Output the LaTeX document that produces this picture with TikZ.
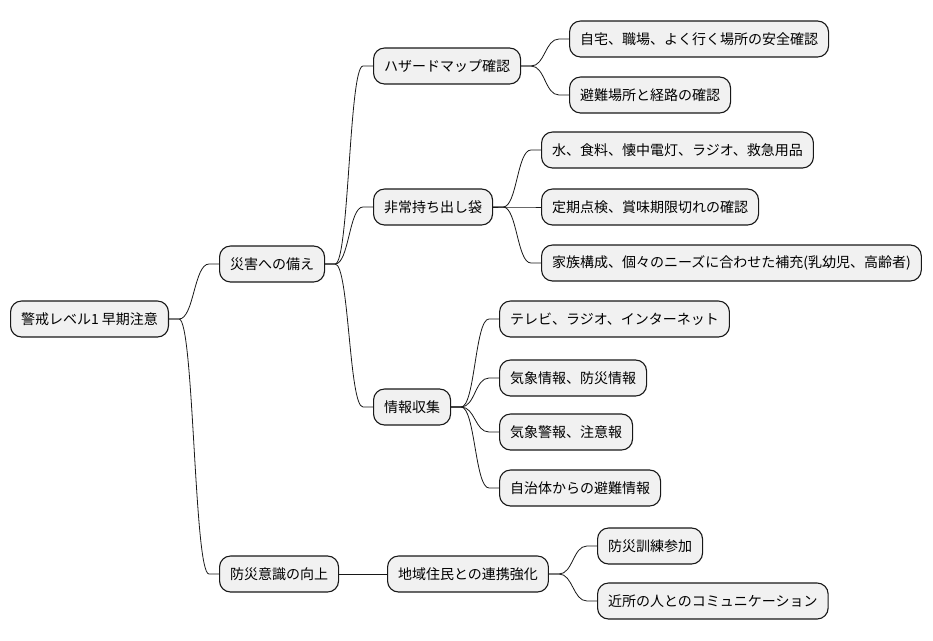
\documentclass[tikz,border=0pt]{standalone}
\usepackage{fontspec}
\setmainfont{Noto Sans CJK JP}
\usetikzlibrary{calc}
\definecolor{boxfill}{HTML}{F1F1F1}
\definecolor{boxline}{HTML}{181818}
\tikzset{
  mm/.style={draw=boxline, fill=boxfill, line width=1.1pt, rounded corners=11pt,
    minimum height=36pt, inner xsep=10.5pt, inner ysep=0pt, anchor=west,
    font=\fontsize{14}{16}\selectfont, text=black},
  link/.style={draw=boxline, line width=0.8pt}
}
\newcommand{\mmconn}[2]{%
  \draw[link] let \p1=($(#1.east)+(10,0)$), \p2=($(#2.west)+(-10,0)$) in
    (#1.east) -- (\p1) .. controls ({(\x1+\x2)/2},\y1) and ({(\x1+\x2)/2},\y2) .. (\p2) -- (#2.west);}
\begin{document}
\begin{tikzpicture}[x=1pt,y=-1pt]
\useasboundingbox (0,0) rectangle (933,640);
\node[mm] (r) at (10,319) {警戒レベル1 早期注意};
\node[mm] (a) at (219,264) {災害への備え};
\node[mm] (b) at (219,574) {防災意識の向上};
\node[mm] (a1) at (373,66) {ハザードマップ確認};
\node[mm] (a2) at (373,207) {非常持ち出し袋};
\node[mm] (a3) at (373,407) {情報収集};
\node[mm] (b1) at (387,574) {地域住民との連携強化};
\node[mm] (a11) at (569,39) {自宅、職場、よく行く場所の安全確認};
\node[mm] (a12) at (569,95) {避難場所と経路の確認};
\node[mm] (a21) at (541,150) {水、食料、懐中電灯、ラジオ、救急用品};
\node[mm] (a22) at (541,207) {定期点検、賞味期限切れの確認};
\node[mm] (a23) at (541,263) {家族構成、個々のニーズに合わせた補充(乳幼児、高齢者)};
\node[mm] (a31) at (499,319) {テレビ、ラジオ、インターネット};
\node[mm] (a32) at (499,378) {気象情報、防災情報};
\node[mm] (a33) at (499,432) {気象警報、注意報};
\node[mm] (a34) at (499,488) {自治体からの避難情報};
\node[mm] (b11) at (597,546) {防災訓練参加};
\node[mm] (b12) at (597,601) {近所の人とのコミュニケーション};
\mmconn{r}{a}
\mmconn{r}{b}
\mmconn{a}{a1}
\mmconn{a}{a2}
\mmconn{a}{a3}
\mmconn{b}{b1}
\mmconn{a1}{a11}
\mmconn{a1}{a12}
\mmconn{a2}{a21}
\mmconn{a2}{a22}
\mmconn{a2}{a23}
\mmconn{a3}{a31}
\mmconn{a3}{a32}
\mmconn{a3}{a33}
\mmconn{a3}{a34}
\mmconn{b1}{b11}
\mmconn{b1}{b12}
\end{tikzpicture}
\end{document}
